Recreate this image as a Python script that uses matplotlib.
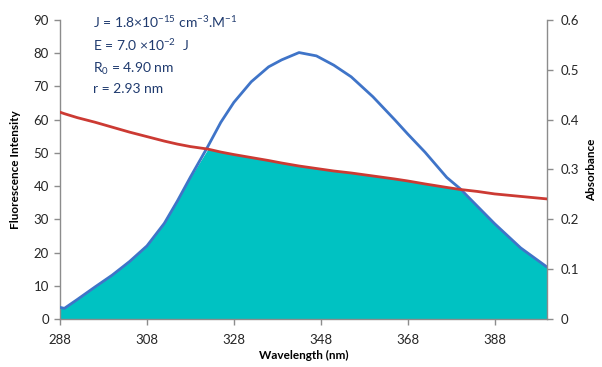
import numpy as np
import matplotlib
matplotlib.use("Agg")
import matplotlib.pyplot as plt

# data
wavelength = [288, 289, 292, 296, 300, 304, 308, 312, 315, 318, 322, 325, 328, 332, 336,
              339, 343, 347, 351, 355, 360, 365, 368, 372, 377, 380, 384, 388, 394, 400]
fluorescence = [3.5, 3.2, 5.9, 9.6, 13.2, 17.3, 22.0, 28.8, 35.5, 42.7, 51.9, 59.2, 65.2, 71.4, 75.9,
                78.0, 80.2, 79.2, 76.4, 72.9, 66.9, 60.0, 55.7, 50.2, 42.6, 39.3, 34.0, 28.7, 21.4, 15.7]
absorbance = [0.415, 0.412, 0.404, 0.395, 0.385, 0.375, 0.366, 0.357, 0.351, 0.346, 0.341, 0.335,
              0.330, 0.324, 0.318, 0.313, 0.307, 0.302, 0.297, 0.293, 0.287, 0.281, 0.277, 0.271,
              0.264, 0.260, 0.256, 0.251, 0.246, 0.241]
x_ticks = [288, 308, 328, 348, 368, 388]
annotations = [r"J = 1.8×10$^{-15}$ cm$^{-3}$.M$^{-1}$",
               r"E = 7.0 ×10$^{-2}$  J",
               r"R$_0$ = 4.90 nm",
               r"r = 2.93 nm"]

plt.rcParams['font.family'] = ['Lato', 'DejaVu Sans']
plt.rcParams['mathtext.fontset'] = 'custom'
plt.rcParams['mathtext.rm'] = 'Lato'
plt.rcParams['mathtext.it'] = 'Lato'

grey = '#8c8c8c'
text_c = '#262626'
blue = '#3f74c8'
red = '#cc3a33'
teal = '#00c2c2'

fig = plt.figure(figsize=(6.02, 3.67), dpi=100)
ax = fig.add_axes([0.0997, 0.1308, 0.8085, 0.8147])
ax2 = ax.twinx()

wl = np.array(wavelength)
fl = np.array(fluorescence)
ab = np.array(absorbance)
ymax_left, ymax_right = 90, 0.6
overlap = np.minimum(fl, ab * ymax_left / ymax_right)

ax.fill_between(wl, 0, overlap, color=teal, lw=0, zorder=1)
ax.plot(wl, overlap, color='#d8f0f0', lw=0.8, zorder=2)
ax.plot(wl, fl, color=blue, lw=2.0, zorder=4, solid_capstyle='round')
ax2.plot(wl, ab, color=red, lw=2.0, zorder=3)

ax.set_xlim(288, 400)
ax.set_ylim(0, ymax_left)
ax2.set_ylim(0, ymax_right)
ax.set_yticks(range(0, 91, 10))
ax2.set_yticks(np.arange(0, 0.61, 0.1))
ax2.set_yticklabels(['0', '0.1', '0.2', '0.3', '0.4', '0.5', '0.6'])
ax.set_xticks(x_ticks)

for a in (ax, ax2):
    for s in a.spines.values():
        s.set_visible(False)
ax.spines['left'].set_visible(True)
ax.spines['bottom'].set_visible(True)
ax2.spines['right'].set_visible(True)
for s in (ax.spines['left'], ax.spines['bottom'], ax2.spines['right']):
    s.set_color(grey)
    s.set_linewidth(1.0)

ax.tick_params(axis='both', direction='out', color=grey, length=4, width=1,
               labelsize=9.5, labelcolor=text_c, pad=4)
ax.tick_params(axis='x', pad=7)
ax2.tick_params(axis='y', direction='out', color=grey, length=4, width=1,
                labelsize=9.5, labelcolor=text_c, pad=6)

ax.set_xlabel('Wavelength (nm)', fontsize=8.5, fontweight='bold', labelpad=3)
ax.set_ylabel('Fluorescence Intensity', fontsize=8.5, fontweight='bold', labelpad=9)
ax2.set_ylabel('Absorbance', fontsize=8.5, fontweight='bold', labelpad=5)

ys = [0.924, 0.861, 0.801, 0.747]
for txt, y in zip(annotations, ys):
    fig.text(0.154, y, txt, fontsize=10, color='#1f3a6e', va='baseline', ha='left')

fig.savefig('out.png', dpi=100)
